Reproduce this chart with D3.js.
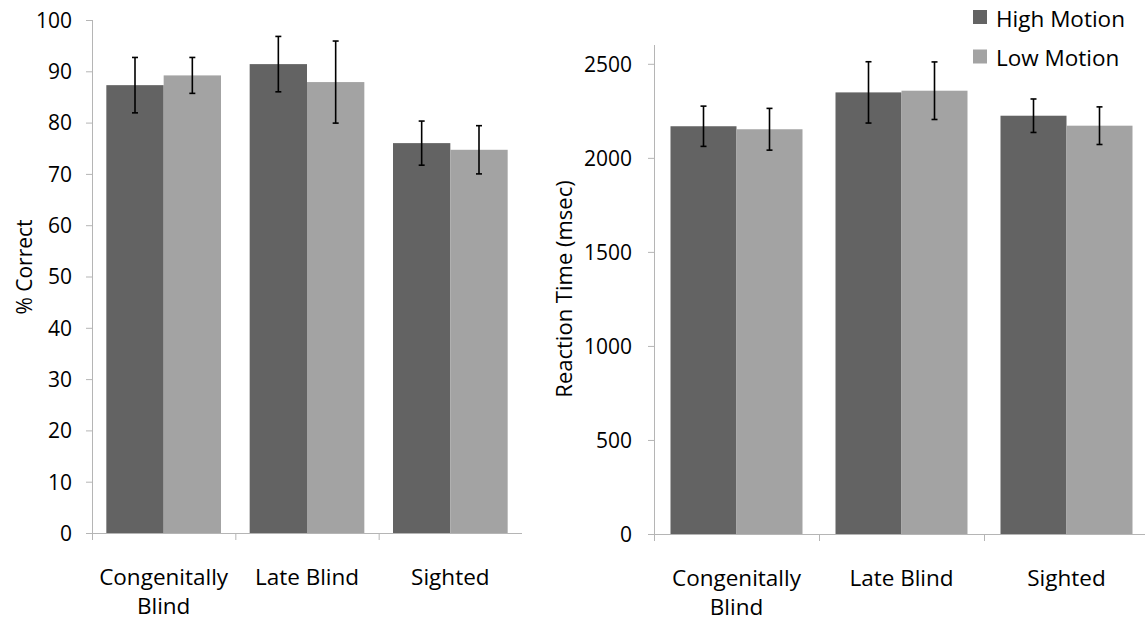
<!DOCTYPE html>
<html>
<head>
<meta charset="utf-8">
<script src="https://cdn.jsdelivr.net/npm/d3@7"></script>
<style>
body { margin: 0; background: #fff; }
svg text { font-family: "Open Sans", sans-serif; fill: #000; }
.axis path, .axis line { stroke: #b5b5b5; }
</style>
</head>
<body>
<svg id="chart" width="1145" height="621"></svg>
<script>
var categories = ["Congenitally Blind", "Late Blind", "Sighted"];
var categoryLines = [["Congenitally", "Blind"], ["Late Blind"], ["Sighted"]];
var seriesNames = ["High Motion", "Low Motion"];
var seriesColors = ["#636363", "#a3a3a3"];

// % correct
var accHigh = [87.3, 91.4, 76.0];
var accHighErr = [5.4, 5.4, 4.3];
var accLow = [89.2, 87.9, 74.7];
var accLowErr = [3.5, 8.0, 4.7];
var accTicks = [0, 10, 20, 30, 40, 50, 60, 70, 80, 90, 100];

// reaction time (msec)
var rtHigh = [2168, 2348, 2224];
var rtHighErr = [107, 163, 89];
var rtLow = [2152, 2357, 2171];
var rtLowErr = [111, 153, 100];
var rtTicks = [0, 500, 1000, 1500, 2000, 2500];

var svg = d3.select("#chart");

function drawPanel(opts) {
    var rows = categories.map(function (c, i) {
        return {
            cat: c,
            lines: categoryLines[i],
            vals: [
                { s: 0, v: opts.high[i], e: opts.highErr[i] },
                { s: 1, v: opts.low[i], e: opts.lowErr[i] }
            ]
        };
    });

    var x0 = d3.scaleBand()
        .domain(categories)
        .range([opts.left, opts.right])
        .paddingInner(0.2)
        .paddingOuter(0.1);

    var x1 = d3.scaleBand()
        .domain([0, 1])
        .range([0, x0.bandwidth()]);

    var y = d3.scaleLinear()
        .domain(opts.domain)
        .range([opts.bottom, opts.top]);

    var g = svg.append("g");

    // y axis
    g.append("g")
        .attr("class", "axis")
        .attr("transform", "translate(" + opts.left + ",0)")
        .call(d3.axisLeft(y).tickValues(opts.ticks).tickFormat(d3.format("d"))
            .tickSize(6).tickPadding(opts.tickPad).tickSizeOuter(0))
        .call(function (a) {
            a.select(".domain").attr("d", "M0.5," + opts.top + "V" + opts.bottom);
            a.selectAll("text").style("font-size", "21px").attr("dy", "0.35em");
        });

    // x axis line + category separators
    var step = x0.step();
    g.append("line")
        .attr("x1", opts.left - 6).attr("x2", opts.right)
        .attr("y1", opts.bottom + 0.5).attr("y2", opts.bottom + 0.5)
        .style("stroke", "#b5b5b5");

    g.selectAll(".sep")
        .data(categories)
        .join("line")
        .attr("class", "sep")
        .attr("x1", function (d, i) { return opts.left + i * step + 0.5; })
        .attr("x2", function (d, i) { return opts.left + i * step + 0.5; })
        .attr("y1", opts.bottom)
        .attr("y2", opts.bottom + 7)
        .style("stroke", "#b5b5b5");

    var grp = g.selectAll(".grp")
        .data(rows)
        .join("g")
        .attr("class", "grp")
        .attr("transform", function (d) { return "translate(" + x0(d.cat) + ",0)"; });

    grp.selectAll("rect")
        .data(function (d) { return d.vals; })
        .join("rect")
        .attr("x", function (d) { return x1(d.s); })
        .attr("y", function (d) { return y(d.v); })
        .attr("width", x1.bandwidth())
        .attr("height", function (d) { return y(0) - y(d.v); })
        .style("fill", function (d) { return seriesColors[d.s]; });

    // error bars
    var eb = grp.selectAll(".err")
        .data(function (d) { return d.vals; })
        .join("g")
        .attr("class", "err")
        .style("stroke", "#000")
        .style("stroke-width", 1.6);

    eb.append("line")
        .attr("x1", function (d) { return x1(d.s) + x1.bandwidth() / 2; })
        .attr("x2", function (d) { return x1(d.s) + x1.bandwidth() / 2; })
        .attr("y1", function (d) { return y(d.v + d.e); })
        .attr("y2", function (d) { return y(d.v - d.e); });

    [1, -1].forEach(function (sign) {
        eb.append("line")
            .attr("x1", function (d) { return x1(d.s) + x1.bandwidth() / 2 - 3; })
            .attr("x2", function (d) { return x1(d.s) + x1.bandwidth() / 2 + 3; })
            .attr("y1", function (d) { return y(d.v + sign * d.e); })
            .attr("y2", function (d) { return y(d.v + sign * d.e); });
    });

    // category labels
    var lab = g.selectAll(".catlab")
        .data(rows)
        .join("text")
        .attr("class", "catlab")
        .attr("text-anchor", "middle")
        .attr("x", function (d) { return x0(d.cat) + x0.bandwidth() / 2; })
        .attr("y", opts.bottom + opts.labelOffset)
        .style("font-size", "22.5px");

    lab.selectAll("tspan")
        .data(function (d) { return d.lines; })
        .join("tspan")
        .attr("x", function () { return d3.select(this.parentNode).attr("x"); })
        .attr("dy", function (d, i) { return i == 0 ? 0 : 29; })
        .text(function (d) { return d; });

    // y title
    g.append("text")
        .attr("transform", "translate(" + opts.titleX + "," + opts.titleY + ") rotate(-90)")
        .attr("text-anchor", "middle")
        .style("font-size", opts.titleSize)
        .text(opts.title);
}

drawPanel({
    high: accHigh, highErr: accHighErr, low: accLow, lowErr: accLowErr,
    domain: [0, 100], ticks: accTicks, tickPad: 14,
    left: 92, right: 522, top: 20, bottom: 533,
    labelOffset: 52, title: "% Correct", titleX: 32, titleY: 267, titleSize: "21px"
});

drawPanel({
    high: rtHigh, highErr: rtHighErr, low: rtLow, lowErr: rtLowErr,
    domain: [0, 2600], ticks: rtTicks, tickPad: 16,
    left: 654, right: 1149, top: 45, bottom: 534,
    labelOffset: 52, title: "Reaction Time (msec)", titleX: 572, titleY: 289, titleSize: "22px"
});

// legend
var legend = svg.selectAll(".leg")
    .data(seriesNames)
    .join("g")
    .attr("class", "leg")
    .attr("transform", function (d, i) { return "translate(973," + (10 + i * 39.5) + ")"; });

legend.append("rect")
    .attr("width", 14).attr("height", 14)
    .style("fill", function (d, i) { return seriesColors[i]; });

legend.append("text")
    .attr("x", 23).attr("y", 16.5)
    .style("font-size", "22.5px")
    .text(function (d) { return d; });
</script>
</body>
</html>
